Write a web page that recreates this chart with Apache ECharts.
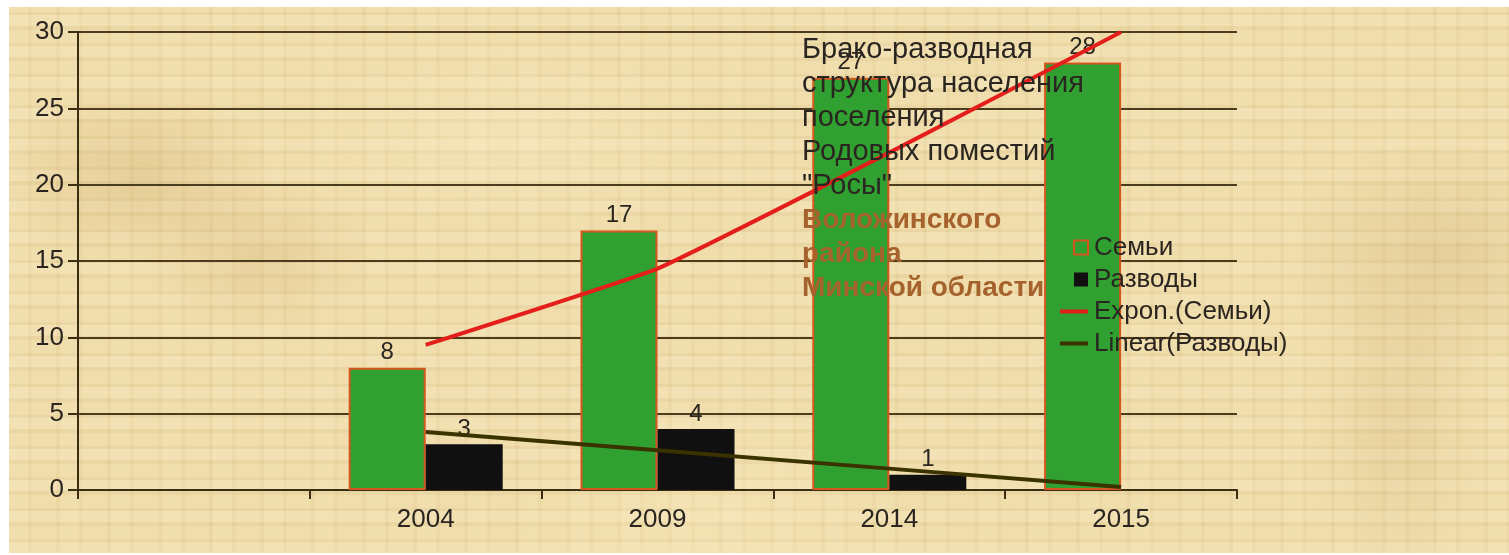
<!DOCTYPE html>
<html>
<head>
<meta charset="utf-8">
<script src="https://cdn.jsdelivr.net/npm/echarts@6/dist/echarts.min.js"></script>
<style>
html,body{margin:0;padding:0;background:#fff;width:1509px;height:555px;overflow:hidden;}
#bg{position:absolute;left:9px;top:7px;width:1500px;height:546px;
background-color:#ecd8a4;
background-image:
 radial-gradient(ellipse 140px 90px at 130px 170px, rgba(190,140,70,0.22), transparent),
 radial-gradient(ellipse 120px 80px at 250px 250px, rgba(190,140,70,0.18), transparent),
 radial-gradient(ellipse 160px 120px at 1430px 250px, rgba(185,145,80,0.2), transparent),
 radial-gradient(ellipse 90px 160px at 1390px 420px, rgba(185,145,80,0.15), transparent),
 radial-gradient(ellipse 200px 120px at 700px 500px, rgba(255,240,200,0.25), transparent),
 radial-gradient(ellipse 220px 90px at 500px 130px, rgba(255,244,210,0.25), transparent),
 repeating-linear-gradient(0deg, rgba(255,246,215,0.22) 0 11px, rgba(195,165,105,0.08) 11px 14px, rgba(255,240,200,0.12) 14px 27px, rgba(185,155,95,0.07) 27px 31px),
 repeating-linear-gradient(90deg, rgba(255,245,210,0.14) 0 19px, rgba(195,165,105,0.06) 19px 23px, rgba(255,240,200,0.1) 23px 47px, rgba(180,150,90,0.06) 47px 51px);
}
#chart{position:absolute;left:0;top:0;width:1509px;height:555px;}
</style>
</head>
<body>
<div id="bg"></div>
<div id="chart"></div>
<script>
var categories = ['', '2004', '2009', '2014', '2015'];
var families = ['-', 8, 17, 27, 28];
var divorces = ['-', 3, 4, 1, 0];
var expTrend = ['-', 9.5, 14.5, 22.1, 30];
var linTrend = ['-', 3.8, 2.6, 1.4, 0.2];
var yTicks = [0, 5, 10, 15, 20, 25, 30];

var FONT = '"Liberation Sans", Arial, sans-serif';
var chart = echarts.init(document.getElementById('chart'), null, {renderer: 'canvas'});
var sqIcon = 'path://M0,0 M28,14 M14,0 L28,0 L28,14 L14,14 Z';
var lnIcon = 'path://M0,0 M28,14 M0,5 L28,5 L28,9 L0,9 Z';

chart.setOption({
  backgroundColor: 'transparent',
  animation: false,
  textStyle: {fontFamily: FONT},
  title: [
    {text: 'Брако-разводная\nструктура населения\nпоселения\nРодовых поместий\n"Росы"',
     left: 802, top: 33, padding: 0,
     textStyle: {fontFamily: FONT, fontSize: 29, lineHeight: 34, fontWeight: 'normal', color: '#2a2520'}},
    {text: 'Воложинского\nрайона\nМинской области',
     left: 802, top: 203, padding: 0,
     textStyle: {fontFamily: FONT, fontSize: 28, lineHeight: 34, fontWeight: 'bold', color: '#a5622c'}}
  ],
  legend: {
    orient: 'vertical', left: 1059, top: 234, padding: 0,
    itemWidth: 28, itemHeight: 14, itemGap: 5,
    textStyle: {fontFamily: FONT, fontSize: 26, lineHeight: 27, color: '#2a2520', padding: [0, 0, 0, 1]},
    data: [
      {name: 'Семьи', icon: sqIcon},
      {name: 'Разводы', icon: sqIcon},
      {name: 'Expon.(Семьи)', icon: lnIcon},
      {name: 'Linear(Разводы)', icon: lnIcon}
    ]
  },
  grid: {left: 78, right: 272, top: 32, bottom: 65, containLabel: false},
  xAxis: {
    type: 'category', data: categories, boundaryGap: true,
    axisLine: {lineStyle: {color: '#3a2e12', width: 2}},
    axisTick: {show: true, interval: 0, length: 9, lineStyle: {color: '#3a2e12', width: 2}},
    axisLabel: {interval: 0, margin: 17, fontFamily: FONT, fontSize: 26, color: '#2a2520'},
    splitLine: {show: false}
  },
  yAxis: {
    type: 'value', min: yTicks[0], max: yTicks[yTicks.length - 1], interval: 5,
    axisLine: {show: true, lineStyle: {color: '#3a2e12', width: 2}},
    axisTick: {show: true, length: 10, lineStyle: {color: '#3a2e12', width: 2}},
    axisLabel: {margin: 14, fontFamily: FONT, fontSize: 26, color: '#2a2520'},
    splitLine: {show: true, lineStyle: {color: '#4a3c1c', width: 2}}
  },
  series: [
    {name: 'Семьи', type: 'bar', data: families, barWidth: 77, barGap: '0%',
     itemStyle: {color: '#30a030', borderColor: '#d5561e', borderWidth: 2},
     label: {show: true, position: 'top', distance: 3, fontFamily: FONT, fontSize: 24, color: '#2a2520'}},
    {name: 'Разводы', type: 'bar', data: divorces, barWidth: 77,
     itemStyle: {color: '#101010'},
     label: {show: true, position: 'top', distance: 3, fontFamily: FONT, fontSize: 24, color: '#2a2520',
       formatter: function (p) { return p.value ? String(p.value) : ''; }}},
    {name: 'Expon.(Семьи)', type: 'line', data: expTrend, smooth: 0.1, symbol: 'none',
     color: '#e41e1a', lineStyle: {color: '#e41e1a', width: 4}, itemStyle: {color: '#e41e1a'}, z: 3},
    {name: 'Linear(Разводы)', type: 'line', data: linTrend, symbol: 'none',
     color: '#3a3300', lineStyle: {color: '#3a3300', width: 4}, itemStyle: {color: '#3a3300'}, z: 3}
  ]
});
</script>
</body>
</html>
